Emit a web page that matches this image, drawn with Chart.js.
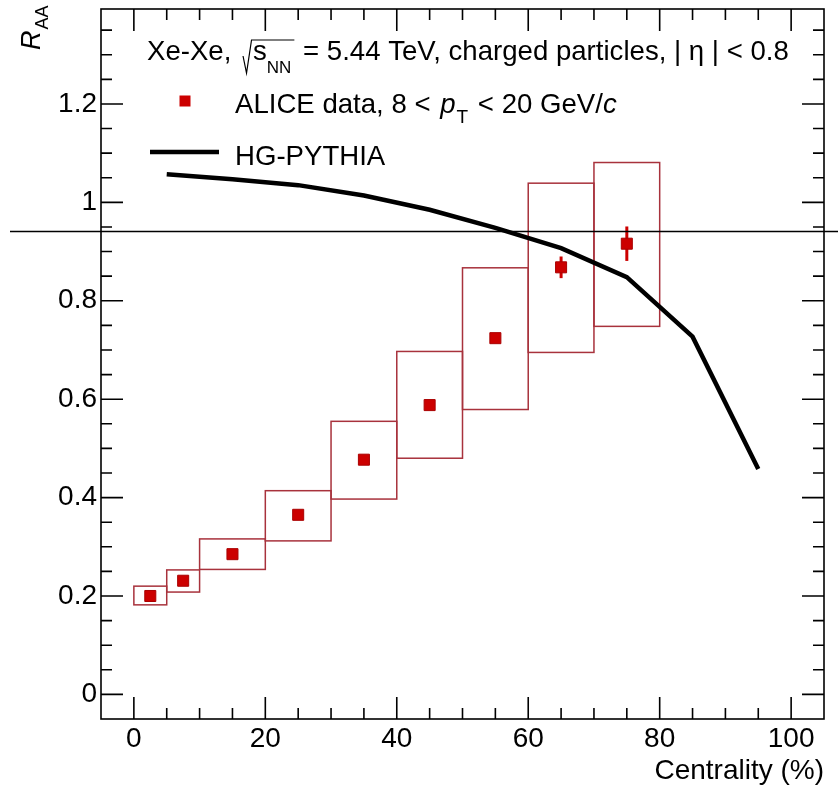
<!DOCTYPE html>
<html><head><meta charset="utf-8">
<script src="https://cdn.jsdelivr.net/npm/chart.js@4.4.0/dist/chart.umd.min.js"></script>
<style>html,body{margin:0;padding:0;background:#fff}canvas{display:block}</style>
</head><body>
<canvas id="c" width="838" height="794"></canvas>
<script>
// ---- data ----
const binLow = [0, 5, 10, 20, 30, 40, 50, 60, 70];
const binHigh = [5, 10, 20, 30, 40, 50, 60, 70, 80];
const binCenter = [2.5, 7.5, 15, 25, 35, 45, 55, 65, 75];
const aliceRAA = [0.200, 0.231, 0.285, 0.365, 0.477, 0.588, 0.724, 0.868, 0.916];
const aliceStat = [0.003, 0.003, 0.004, 0.005, 0.006, 0.008, 0.010, 0.022, 0.035];
const aliceSysLow = [0.182, 0.208, 0.254, 0.312, 0.397, 0.480, 0.579, 0.695, 0.748];
const aliceSysHigh = [0.220, 0.253, 0.316, 0.414, 0.555, 0.697, 0.867, 1.039, 1.081];
const pythiaX = [5, 15, 25, 35, 45, 55, 65, 75, 85, 95];
const pythiaRAA = [1.057, 1.047, 1.035, 1.014, 0.985, 0.948, 0.907, 0.848, 0.727, 0.458];
const xTicks = [0, 20, 40, 60, 80, 100];
const xTickLabels = ['0', '20', '40', '60', '80', '100'];
const yTicks = [0, 0.2, 0.4, 0.6, 0.8, 1, 1.2];
const yTickLabels = ['0', '0.2', '0.4', '0.6', '0.8', '1', '1.2'];
const refLineValue = 0.942;

const FONT = '"Liberation Sans", Arial, Helvetica, sans-serif';
Chart.defaults.font.family = FONT;
Chart.defaults.color = '#000';

function f(size, italic) { return (italic ? 'italic ' : '') + size + 'px ' + FONT; }

const decor = {
  id: 'decor',
  beforeDatasetsDraw(chart) {
    const { ctx, scales: { x, y } } = chart;
    ctx.save();
    // systematic boxes
    ctx.strokeStyle = '#a8323c';
    ctx.lineWidth = 1.5;
    for (let i = 0; i < binLow.length; i++) {
      const x0 = x.getPixelForValue(binLow[i]), x1 = x.getPixelForValue(binHigh[i]);
      const y0 = y.getPixelForValue(aliceSysHigh[i]), y1 = y.getPixelForValue(aliceSysLow[i]);
      ctx.strokeRect(x0, y0, x1 - x0, y1 - y0);
    }
    // statistical error bars
    ctx.strokeStyle = '#cc0000';
    ctx.lineWidth = 3;
    for (let i = 0; i < binCenter.length; i++) {
      const px = x.getPixelForValue(binCenter[i]);
      ctx.beginPath();
      ctx.moveTo(px, y.getPixelForValue(aliceRAA[i] - aliceStat[i]));
      ctx.lineTo(px, y.getPixelForValue(aliceRAA[i] + aliceStat[i]));
      ctx.stroke();
    }
    ctx.restore();
  },
  afterDraw(chart) {
    const { ctx, chartArea: a, scales: { x, y } } = chart;
    ctx.save();
    ctx.strokeStyle = '#000';
    ctx.lineWidth = 1.6;
    ctx.strokeRect(a.left, a.top, a.right - a.left, a.bottom - a.top);
    // ticks (inward, all four sides)
    ctx.beginPath();
    for (let k = 0; k <= 21; k++) {
      const v = k * 5;
      if (v <= x.min || v >= x.max) continue;
      const len = (k % 4 === 0) ? 22 : 11;
      const px = x.getPixelForValue(v);
      ctx.moveTo(px, a.bottom); ctx.lineTo(px, a.bottom - len);
      ctx.moveTo(px, a.top); ctx.lineTo(px, a.top + len);
    }
    for (let k = -1; k <= 28; k++) {
      const v = k * 0.05;
      if (v <= y.min + 1e-9 || v >= y.max) continue;
      const len = (k % 4 === 0) ? 22 : 11;
      const py = y.getPixelForValue(v);
      ctx.moveTo(a.left, py); ctx.lineTo(a.left + len, py);
      ctx.moveTo(a.right, py); ctx.lineTo(a.right - len, py);
    }
    ctx.stroke();

    // horizontal reference line across the picture
    ctx.lineWidth = 1.5;
    const ry = Math.round(y.getPixelForValue(refLineValue)) + 0.5;
    ctx.beginPath(); ctx.moveTo(10, ry); ctx.lineTo(chart.width, ry); ctx.stroke();

    // y-axis title R_AA
    ctx.fillStyle = '#000';
    ctx.save();
    ctx.translate(40, 50);
    ctx.rotate(-Math.PI / 2);
    ctx.textBaseline = 'alphabetic';
    ctx.textAlign = 'left';
    ctx.font = f(27, true);
    ctx.fillText('R', 0, 0);
    const wR = ctx.measureText('R').width;
    ctx.font = f(18, false);
    ctx.fillText('AA', wR + 1, 8);
    ctx.restore();

    // legend / caption
    ctx.textBaseline = 'alphabetic';
    ctx.textAlign = 'left';
    const LF = 27.6;
    // line 1
    let cx = 147, base = 60;
    ctx.font = f(LF, false);
    ctx.fillText('Xe-Xe,', cx, base);
    cx += ctx.measureText('Xe-Xe, ').width + 4;
    const sqX = cx;
    ctx.font = f(LF, false);
    const wS = ctx.measureText('s').width;
    ctx.font = f(17, false);
    const wNN = ctx.measureText('NN').width;
    ctx.lineWidth = 1.2;
    ctx.beginPath();
    ctx.moveTo(sqX, 56); ctx.lineTo(sqX + 3.5, 73); ctx.lineTo(sqX + 8.5, 40);
    ctx.lineTo(sqX + 11 + wS + wNN + 2, 40);
    ctx.stroke();
    ctx.font = f(LF, false);
    ctx.fillText('s', sqX + 10, base);
    ctx.font = f(17, false);
    ctx.fillText('NN', sqX + 10 + wS, base + 13);
    cx = sqX + 11 + wS + wNN + 3;
    ctx.font = f(LF, false);
    ctx.fillText(' = 5.44 TeV, charged particles, | \u03B7 | < 0.8', cx, base);

    // line 2
    const l2y = 113;
    ctx.fillStyle = '#cc0000';
    ctx.fillRect(185 - 5.5, 101 - 5.5, 11, 11);
    ctx.fillStyle = '#000';
    cx = 235;
    ctx.font = f(LF, false);
    ctx.fillText('ALICE data, 8 < ', cx, l2y);
    cx += ctx.measureText('ALICE data, 8 < ').width + 2;
    ctx.font = f(LF, true);
    ctx.fillText('p', cx, l2y);
    cx += ctx.measureText('p').width + 1;
    ctx.font = f(19, false);
    ctx.fillText('T', cx, l2y + 10);
    cx += ctx.measureText('T').width + 2;
    ctx.font = f(LF, false);
    ctx.fillText(' < 20 GeV/', cx, l2y);
    cx += ctx.measureText(' < 20 GeV/').width;
    ctx.font = f(LF, true);
    ctx.fillText('c', cx, l2y);

    // line 3
    ctx.strokeStyle = '#000';
    ctx.lineWidth = 4.5;
    ctx.beginPath(); ctx.moveTo(150, 152); ctx.lineTo(219, 152); ctx.stroke();
    ctx.font = f(LF, false);
    ctx.fillText('HG-PYTHIA', 235, 165);
    ctx.restore();
  }
};

new Chart(document.getElementById('c'), {
  type: 'scatter',
  data: {
    datasets: [
      {
        label: 'ALICE data',
        data: binCenter.map((v, i) => ({ x: v, y: aliceRAA[i] })),
        pointStyle: 'rect',
        pointRadius: 7.8,
        backgroundColor: '#cc0000',
        borderColor: '#aa0000',
        borderWidth: 1,
        order: 0
      },
      {
        type: 'line',
        label: 'HG-PYTHIA',
        data: pythiaX.map((v, i) => ({ x: v, y: pythiaRAA[i] })),
        borderColor: '#000',
        borderWidth: 4.5,
        pointRadius: 0,
        tension: 0,
        fill: false,
        order: 1
      }
    ]
  },
  options: {
    responsive: false,
    animation: false,
    devicePixelRatio: 1,
    layout: { padding: { top: 9, right: 14, left: 0, bottom: 0 } },
    plugins: { legend: { display: false }, tooltip: { enabled: false } },
    scales: {
      x: {
        type: 'linear', min: -5, max: 105,
        afterBuildTicks: s => { s.ticks = xTicks.map(v => ({ value: v })); },
        afterFit: s => { s.height = 75; s.paddingLeft = 0; s.paddingRight = 0; },
        grid: { display: false, drawTicks: false },
        border: { display: false },
        ticks: {
          font: { size: 28 }, color: '#000', padding: 3, maxRotation: 0, autoSkip: false,
          callback: v => { const i = xTicks.indexOf(v); return i >= 0 ? xTickLabels[i] : ''; }
        },
        title: { display: true, text: 'Centrality (%)', align: 'end', font: { size: 28 }, color: '#000', padding: { top: 0, bottom: 6 } }
      },
      y: {
        type: 'linear', min: -0.05, max: 1.393,
        afterBuildTicks: s => { s.ticks = yTicks.map(v => ({ value: v })); },
        afterFit: s => { s.width = 101; s.paddingTop = 0; s.paddingBottom = 0; },
        grid: { display: false, drawTicks: false },
        border: { display: false },
        ticks: {
          font: { size: 28 }, color: '#000', padding: 4, autoSkip: false,
          callback: v => { const i = yTicks.findIndex(t => Math.abs(t - v) < 1e-9); return i >= 0 ? yTickLabels[i] : ''; }
        }
      }
    }
  },
  plugins: [decor]
});
</script>
</body></html>
